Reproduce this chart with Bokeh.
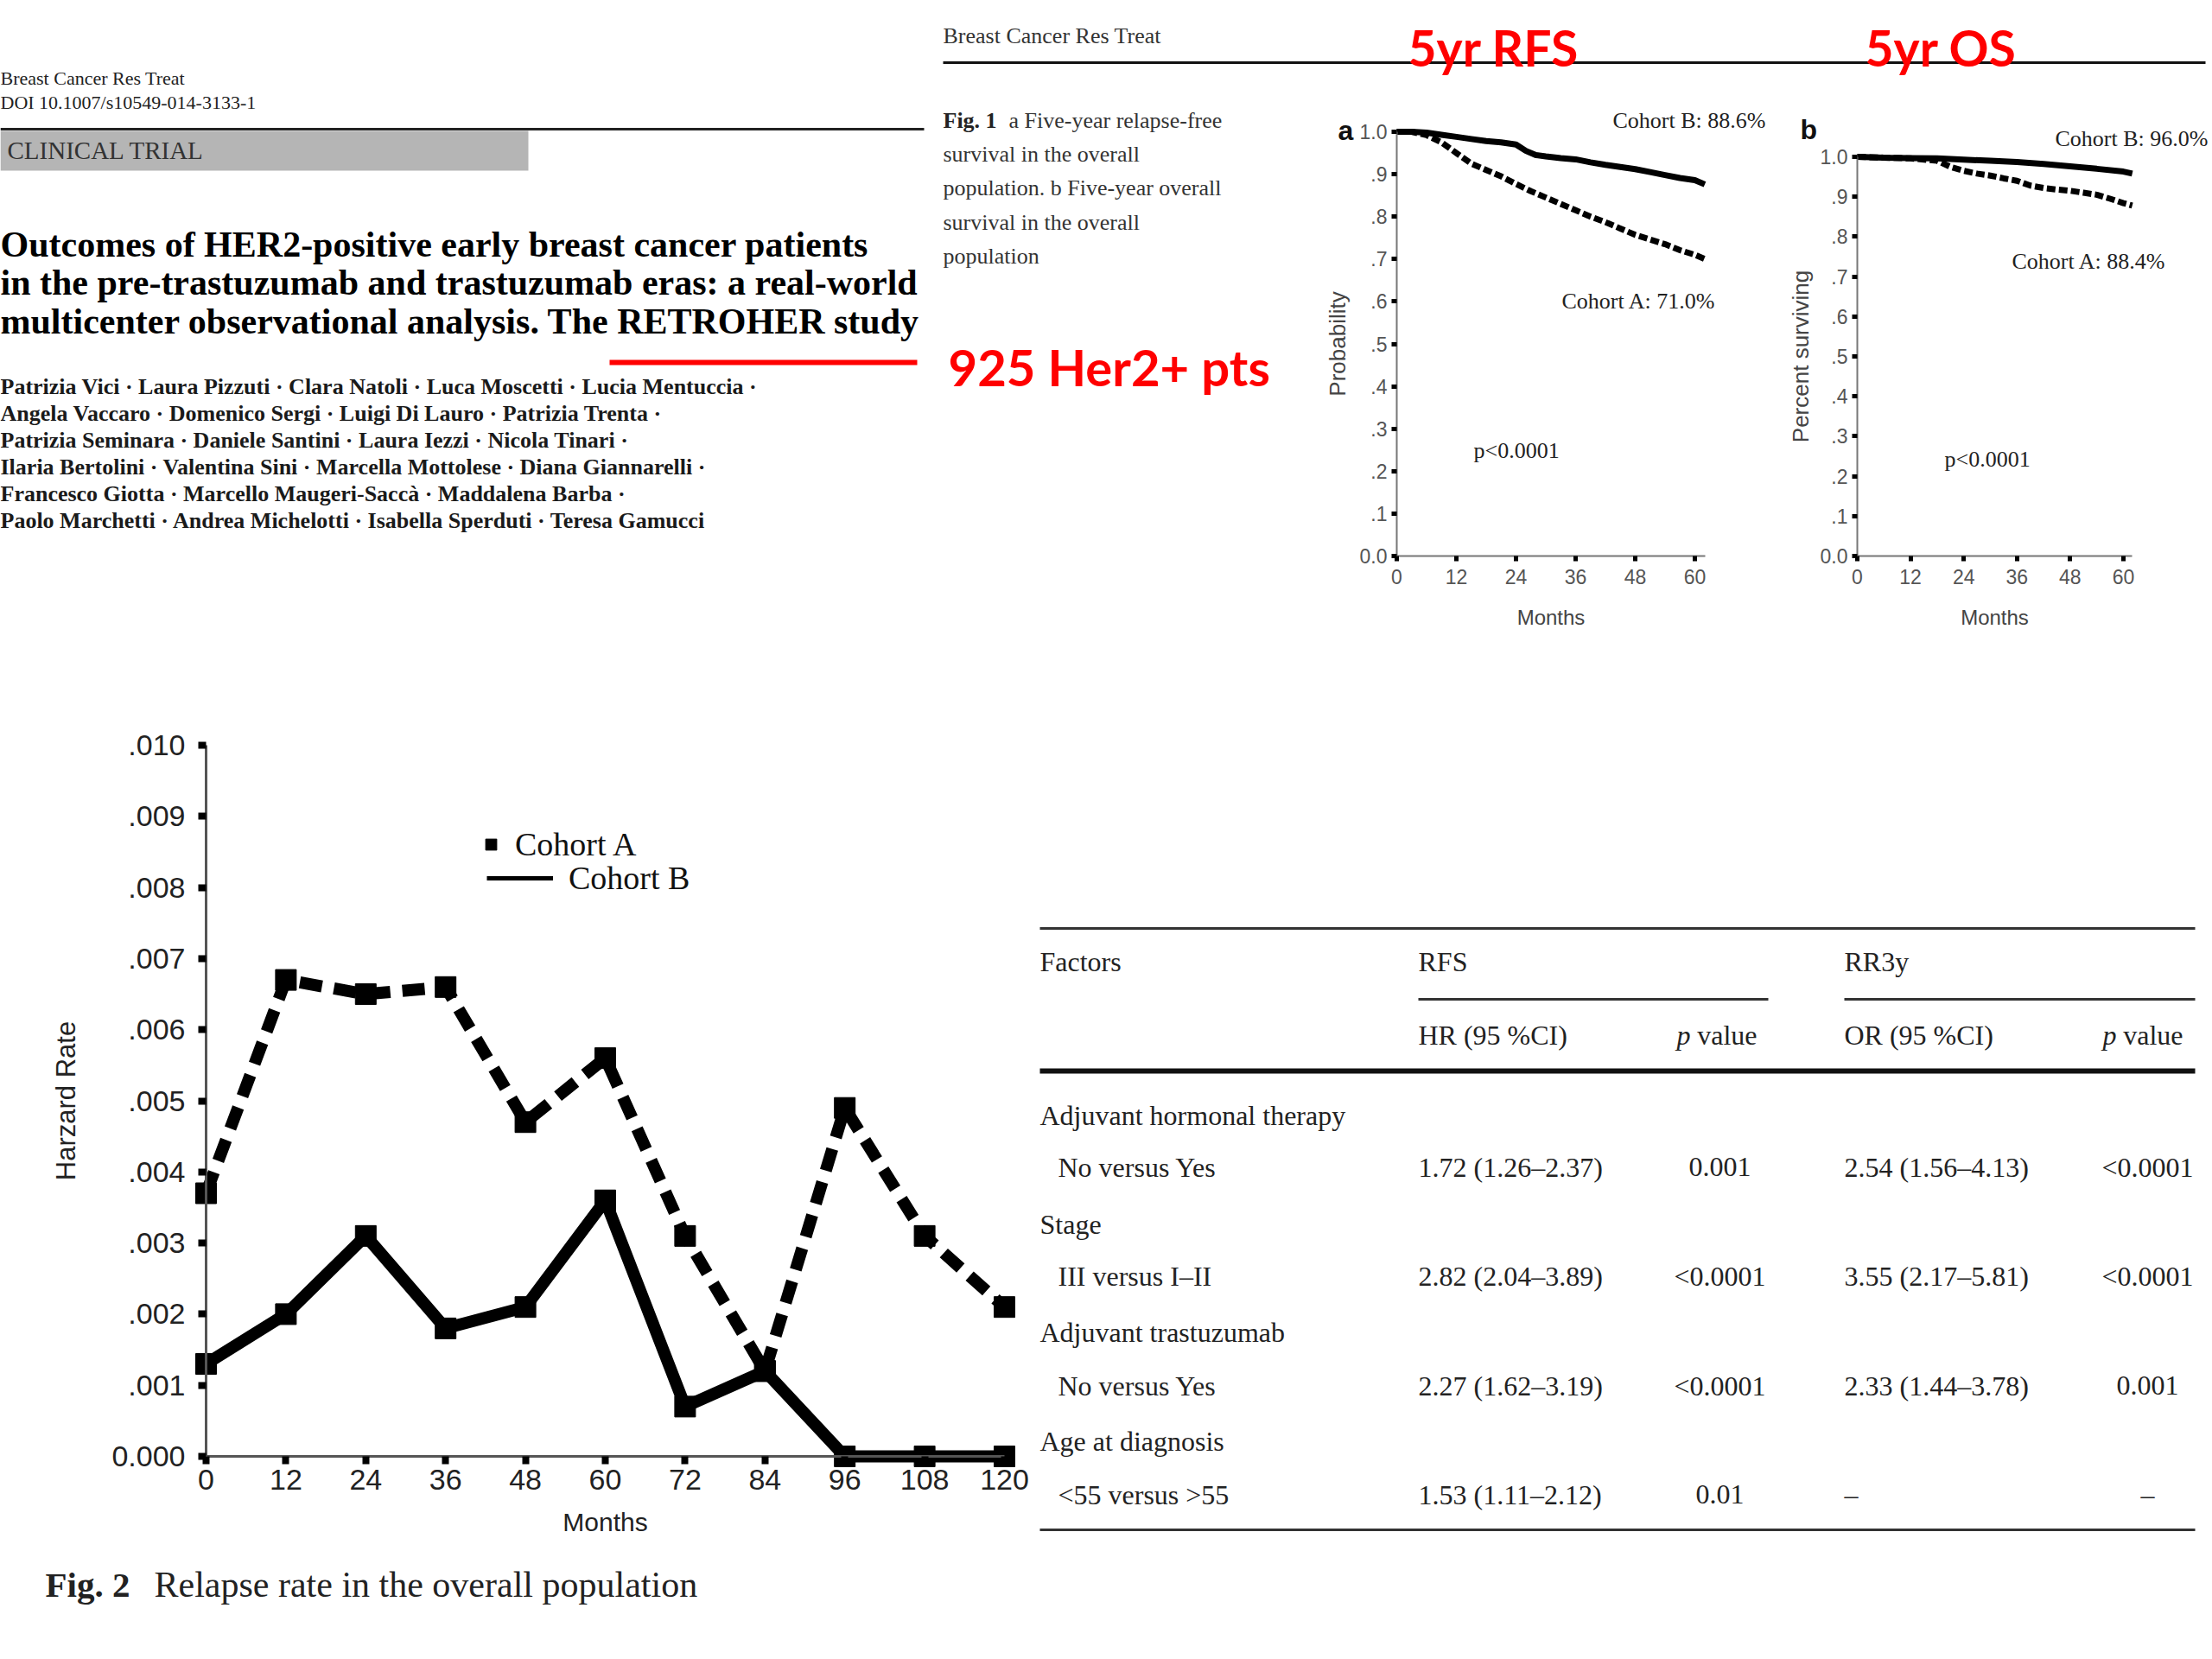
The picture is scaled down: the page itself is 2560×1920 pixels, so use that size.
from bokeh.plotting import figure
from bokeh.layouts import row, column
from bokeh.models import Range1d, Legend, LegendItem, Label
from bokeh.core.properties import value
from bokeh.embed import file_html
from bokeh.resources import INLINE

# ---------------- data ----------------
# Fig. 2 hazard (relapse) rate
hazard_months = [0, 12, 24, 36, 48, 60, 72, 84, 96, 108, 120]
hazard_cohort_a = [0.0037, 0.0067, 0.0065, 0.0066, 0.0047, 0.0056, 0.0031, 0.0012, 0.0049, 0.0031, 0.0021]
hazard_cohort_b = [0.0013, 0.0020, 0.0031, 0.0018, 0.0021, 0.0036, 0.0007, 0.0012, 0.0, 0.0, 0.0]
hazard_y_ticks = [0.0, 0.001, 0.002, 0.003, 0.004, 0.005, 0.006, 0.007, 0.008, 0.009, 0.010]
hazard_y_labels = ["0.000", ".001", ".002", ".003", ".004", ".005", ".006", ".007", ".008", ".009", ".010"]
hazard_x_ticks = [0, 12, 24, 36, 48, 60, 72, 84, 96, 108, 120]

# Fig. 1a relapse-free survival
rfs_months_a = [0, 3, 6, 9, 12, 15, 18, 21, 24, 27, 30, 33, 36, 39, 42, 45, 48, 51, 54, 57, 60, 62]
rfs_cohort_a = [1.0, 1.0, 0.992, 0.975, 0.95, 0.925, 0.91, 0.895, 0.877, 0.86, 0.845, 0.83, 0.815, 0.8,
                0.787, 0.772, 0.757, 0.746, 0.735, 0.721, 0.71, 0.70]
rfs_months_b = [0, 3, 6, 9, 12, 15, 18, 21, 24, 26, 28, 30, 33, 36, 39, 42, 45, 48, 51, 54, 57, 60, 62]
rfs_cohort_b = [1.0, 1.0, 0.998, 0.993, 0.988, 0.983, 0.978, 0.975, 0.97, 0.955, 0.945, 0.942, 0.938, 0.935,
                0.928, 0.922, 0.917, 0.912, 0.905, 0.898, 0.891, 0.886, 0.876]
# Fig. 1b overall survival
os_months_a = [0, 6, 12, 18, 21, 24, 27, 30, 33, 36, 39, 42, 45, 48, 51, 54, 57, 60, 62]
os_cohort_a = [1.0, 0.998, 0.996, 0.99, 0.975, 0.965, 0.958, 0.953, 0.946, 0.94, 0.928, 0.922, 0.918,
               0.915, 0.91, 0.905, 0.895, 0.884, 0.878]
os_months_b = [0, 6, 12, 18, 24, 30, 36, 42, 48, 54, 60, 62]
os_cohort_b = [1.0, 0.998, 0.997, 0.996, 0.993, 0.99, 0.987, 0.982, 0.976, 0.97, 0.963, 0.958]
km_y_ticks = [0.0, 0.1, 0.2, 0.3, 0.4, 0.5, 0.6, 0.7, 0.8, 0.9, 1.0]
km_y_labels = ["0.0", ".1", ".2", ".3", ".4", ".5", ".6", ".7", ".8", ".9", "1.0"]
km_x_ticks = [0, 12, 24, 36, 48, 60]

# Table
factor_groups = ["Adjuvant hormonal therapy", "Stage", "Adjuvant trastuzumab", "Age at diagnosis"]
comparisons = ["No versus Yes", "III versus I\u2013II", "No versus Yes", "<55 versus >55"]
rfs_hr = ["1.72 (1.26\u20132.37)", "2.82 (2.04\u20133.89)", "2.27 (1.62\u20133.19)", "1.53 (1.11\u20132.12)"]
rfs_p = ["0.001", "<0.0001", "<0.0001", "0.01"]
rr3y_or = ["2.54 (1.56\u20134.13)", "3.55 (2.17\u20135.81)", "2.33 (1.44\u20133.78)", "\u2013"]
rr3y_p = ["<0.0001", "<0.0001", "0.001", "\u2013"]

authors = [
    "Patrizia Vici \u00b7 Laura Pizzuti \u00b7 Clara Natoli \u00b7 Luca Moscetti \u00b7 Lucia Mentuccia \u00b7",
    "Angela Vaccaro \u00b7 Domenico Sergi \u00b7 Luigi Di Lauro \u00b7 Patrizia Trenta \u00b7",
    "Patrizia Seminara \u00b7 Daniele Santini \u00b7 Laura Iezzi \u00b7 Nicola Tinari \u00b7",
    "Ilaria Bertolini \u00b7 Valentina Sini \u00b7 Marcella Mottolese \u00b7 Diana Giannarelli \u00b7",
    "Francesco Giotta \u00b7 Marcello Maugeri-Sacc\u00e0 \u00b7 Maddalena Barba \u00b7",
    "Paolo Marchetti \u00b7 Andrea Michelotti \u00b7 Isabella Sperduti \u00b7 Teresa Gamucci",
]
title_lines = [
    "Outcomes of HER2-positive early breast cancer patients",
    "in the pre-trastuzumab and trastuzumab eras: a real-world",
    "multicenter observational analysis. The RETROHER study",
]

SERIF = "Liberation Serif"
SANS = "Liberation Sans"


def text_fig(x0, x1, y0, y1):
    p = figure(width=x1 - x0, height=y1 - y0, x_range=Range1d(x0, x1), y_range=Range1d(y1, y0),
               x_axis_type=None, y_axis_type=None, min_border=0, toolbar_location=None,
               output_backend="svg")
    p.outline_line_color = None
    p.frame_align = False
    return p


def txt(p, x, y, s, size, font=SERIF, style="normal", color="#111111", align="left"):
    p.text(x=[x], y=[y], text=[s], text_font=value(font), text_font_size=value(f"{size}px"),
           text_font_style=style, text_color=color, text_align=align, text_baseline="middle")


# ---------------- left block: article header ----------------
left = text_fig(0, 1085, 0, 760)
txt(left, 0, 90, "Breast Cancer Res Treat", 22, color="#222222")
txt(left, 0, 118, "DOI 10.1007/s10549-014-3133-1", 22, color="#222222")
left.segment(x0=[0], y0=[149], x1=[1069], y1=[149], line_width=3, color="#222222")
left.quad(left=[0], right=[611], top=[151], bottom=[197], color="#b5b5b5", line_color=None)
txt(left, 8, 173, "CLINICAL TRIAL", 29, color="#333333")
for i, line in enumerate(title_lines):
    txt(left, 0, 282 + 44.5 * i, line, 42, style="bold", color="#000000")
left.segment(x0=[705], y0=[419], x1=[1061], y1=[419], line_width=6, color="#ff0000")
for i, line in enumerate(authors):
    txt(left, 0, 447 + 31 * i, line, 26, style="bold", color="#1a1a1a")

# ---------------- top header ----------------
header = text_fig(1085, 2560, 0, 100)
txt(header, 1091, 41, "Breast Cancer Res Treat", 26, color="#333333")
header.segment(x0=[1091], y0=[72], x1=[2552], y1=[72], line_width=3, color="#111111")
txt(header, 1629, 54, "5yr RFS", 57, font="Lato", style="bold", color="#ff0000")
txt(header, 2158, 54, "5yr OS", 57, font="Lato", style="bold", color="#ff0000")

# ---------------- Fig. 1 caption ----------------
cap1 = text_fig(1085, 1500, 100, 760)
txt(cap1, 1091, 139, "Fig. 1", 26, style="bold", color="#222222")
txt(cap1, 1167, 139, "a Five-year relapse-free", 26, color="#333333")
cap_lines = ["survival in the overall", "population. b Five-year overall", "survival in the overall", "population"]
for i, line in enumerate(cap_lines):
    txt(cap1, 1091, 178 + 39.3 * i, line, 26, color="#333333")
txt(cap1, 1097, 424, "925 Her2+ pts", 58, font="Lato", style="bold", color="#ff0000")


# ---------------- chart helpers ----------------
# each chart figure's frame fills the whole figure; axes sit at data zero (fixed_location)
def chart_fig(fx0, fx1, fy0, fy1, x0_px, x_scale, y0_px, y_scale):
    xr = Range1d((fx0 - x0_px) / x_scale, (fx1 - x0_px) / x_scale)
    yr = Range1d((y0_px - fy1) / y_scale, (y0_px - fy0) / y_scale)
    p = figure(width=fx1 - fx0, height=fy1 - fy0, x_range=xr, y_range=yr, min_border=0,
               toolbar_location=None, output_backend="svg")
    p.frame_align = False
    p.grid.visible = False
    p.outline_line_color = None
    p.xaxis.fixed_location = 0
    p.yaxis.fixed_location = 0

    def to_data(rx, ry):
        return (rx - x0_px) / x_scale, (y0_px - ry) / y_scale
    return p, to_data


def style_axes(p, line_color, line_w, tick_w, tick_out, lab_size, lab_color, axlab_size, axlab_color):
    for ax in (p.xaxis[0], p.yaxis[0]):
        ax.axis_line_color = line_color
        ax.axis_line_width = line_w
        ax.major_tick_line_color = "black"
        ax.major_tick_line_width = tick_w
        ax.major_tick_in = 0
        ax.major_tick_out = tick_out
        ax.minor_tick_line_color = None
        ax.major_label_text_font = SANS
        ax.major_label_text_font_size = f"{lab_size}px"
        ax.major_label_text_color = lab_color
        ax.axis_label_text_font = SANS
        ax.axis_label_text_font_style = "normal"
        ax.axis_label_text_color = axlab_color
        ax.axis_label_text_font_size = f"{axlab_size}px"


def lab(p, to_data, rx, ry, s, size, font=SERIF, style="normal", color="#222222"):
    x, y = to_data(rx, ry)
    p.add_layout(Label(x=x, y=y, text=s, text_font=font, text_font_size=f"{size}px",
                       text_font_style=style, text_color=color, text_baseline="middle",
                       text_align="left"))


def km_fig(fx0, fx1, x0_px, x_scale, y1_px, ylabel, ylab_standoff):
    y0_px = 643
    y_scale = (y0_px - y1_px) / 1.0
    p, to_data = chart_fig(fx0, fx1, 100, 760, x0_px, x_scale, y0_px, y_scale)
    p.xaxis.bounds = (0, 62)
    p.yaxis.bounds = (0, 1)
    p.xaxis.ticker = km_x_ticks
    p.yaxis.ticker = km_y_ticks
    p.yaxis.major_label_overrides = dict(zip(km_y_ticks, km_y_labels))
    style_axes(p, "#777777", 2, 5, 6, 23, "#555555", 24, "#444444")
    p.xaxis.axis_label = "Months"
    p.xaxis.major_label_standoff = 9
    p.xaxis.axis_label_standoff = 22
    p.yaxis.axis_label = ylabel
    p.yaxis.axis_label_text_font_size = "26px"
    p.yaxis.major_label_standoff = 5
    p.yaxis.axis_label_standoff = ylab_standoff
    return p, to_data


kma, kma_xy = km_fig(1500, 2060, 1616, 5.75, 152, "Probability", 8)
kma.line(rfs_months_b, rfs_cohort_b, line_width=7, color="black")
kma.line(rfs_months_a, rfs_cohort_a, line_width=7, color="black", line_dash="10 4")
lab(kma, kma_xy, 1548, 150, "a", 32, font=SANS, style="bold", color="#111111")
lab(kma, kma_xy, 1866, 139, "Cohort B: 88.6%", 26)
lab(kma, kma_xy, 1807, 348, "Cohort A: 71.0%", 26)
lab(kma, kma_xy, 1705, 521, "p<0.0001", 26)

kmb, kmb_xy = km_fig(2060, 2560, 2149, 5.133, 181, "Percent surviving", 5)
kmb.line(os_months_b, os_cohort_b, line_width=7, color="black")
kmb.line(os_months_a, os_cohort_a, line_width=7, color="black", line_dash="10 4")
lab(kmb, kmb_xy, 2083, 149, "b", 32, font=SANS, style="bold", color="#111111")
lab(kmb, kmb_xy, 2378, 160, "Cohort B: 96.0%", 26)
lab(kmb, kmb_xy, 2328, 302, "Cohort A: 88.4%", 26)
lab(kmb, kmb_xy, 2250, 531, "p<0.0001", 26)

# ---------------- Fig. 2 hazard rate ----------------
hz, hz_xy = chart_fig(0, 1195, 760, 1920, 238, 7.7, 1685, 82300.0)
hz.xaxis.bounds = (0, 120)
hz.yaxis.bounds = (0, 0.010)
hz.xaxis.ticker = hazard_x_ticks
hz.yaxis.ticker = hazard_y_ticks
hz.yaxis.major_label_overrides = dict(zip(hazard_y_ticks, hazard_y_labels))
style_axes(hz, "#555555", 3, 8, 9, 34, "#222222", 30, "#222222")
hz.xaxis.axis_label = "Months"
hz.xaxis.major_label_standoff = 6
hz.xaxis.axis_label_standoff = 18
hz.yaxis.axis_label = "Harzard Rate"
hz.yaxis.axis_label_text_font_size = "31px"
hz.yaxis.major_label_standoff = 15
hz.yaxis.axis_label_standoff = 32

rb_key = hz.line(hazard_months, hazard_cohort_b, line_width=5, color="black")
hz.line(hazard_months, hazard_cohort_a, line_width=14, color="black", line_dash="26 14")
ra = hz.scatter(hazard_months, hazard_cohort_a, marker="square", size=24, color="black")
hz.line(hazard_months, hazard_cohort_b, line_width=14, color="black")
hz.scatter(hazard_months, hazard_cohort_b, marker="square", size=24, color="black")

for item, loc, gw, standoff in ((LegendItem(label="Cohort A", renderers=[ra]), (552, 921), 32, 12),
                                (LegendItem(label="Cohort B", renderers=[rb_key]), (563, 882), 77, 18)):
    lg = Legend(items=[item], location=loc, glyph_width=gw, glyph_height=38, label_standoff=standoff,
                padding=0, margin=0, spacing=0, border_line_color=None, background_fill_alpha=0,
                label_text_font=SERIF, label_text_font_size="38px", label_text_color="#111111")
    hz.add_layout(lg)

lab(hz, hz_xy, 52, 1833, "Fig. 2", 41, style="bold", color="#222222")
lab(hz, hz_xy, 178, 1833, "Relapse rate in the overall population", 42, color="#222222")

# ---------------- table ----------------
tb = text_fig(1195, 2560, 760, 1920)
tb.segment(x0=[1203], y0=[1074], x1=[2540], y1=[1074], line_width=3, color="#333333")
tb.segment(x0=[1641, 2134], y0=[1156, 1156], x1=[2046, 2540], y1=[1156, 1156], line_width=3, color="#333333")
tb.segment(x0=[1203], y0=[1239], x1=[2540], y1=[1239], line_width=6, color="#111111")
tb.segment(x0=[1203], y0=[1770], x1=[2540], y1=[1770], line_width=3, color="#333333")
TS = 32
txt(tb, 1203, 1112, "Factors", TS, color="#222222")
txt(tb, 1641, 1112, "RFS", TS, color="#222222")
txt(tb, 2134, 1112, "RR3y", TS, color="#222222")
txt(tb, 1641, 1197, "HR (95 %CI)", TS, color="#222222")
txt(tb, 2134, 1197, "OR (95 %CI)", TS, color="#222222")
for right_edge in (2033, 2526):
    txt(tb, right_edge, 1197, "value", TS, color="#222222", align="right")
    txt(tb, right_edge - 77, 1197, "p", TS, style="italic", color="#222222", align="right")

group_y = [1290, 1416, 1541, 1667]
sub_y = [1350, 1476, 1603, 1729]
for i in range(len(factor_groups)):
    txt(tb, 1203, group_y[i], factor_groups[i], TS, color="#222222")
    txt(tb, 1224, sub_y[i], comparisons[i], TS, color="#222222")
    txt(tb, 1641, sub_y[i], rfs_hr[i], TS, color="#222222")
    txt(tb, 1990, sub_y[i], rfs_p[i], TS, color="#222222", align="center")
    txt(tb, 2134, sub_y[i], rr3y_or[i], TS, color="#222222")
    txt(tb, 2485, sub_y[i], rr3y_p[i], TS, color="#222222", align="center")

# ---------------- layout ----------------
top = row(left, column(header, row(cap1, kma, kmb)))
bottom = row(hz, tb)
page = column(top, bottom)

open("out.html", "w").write(file_html(page, INLINE))
